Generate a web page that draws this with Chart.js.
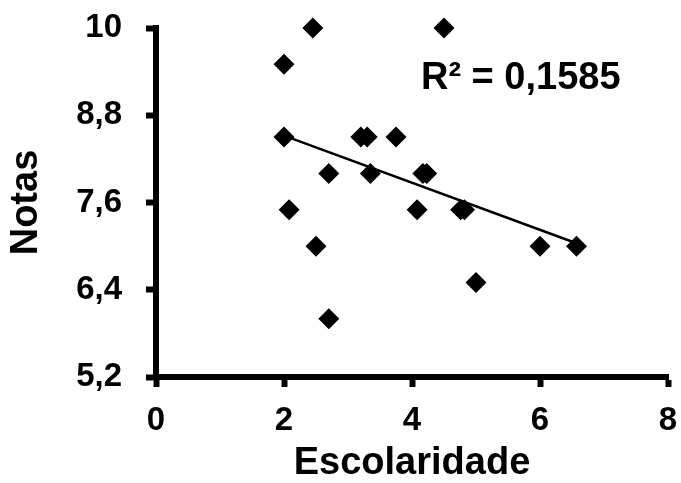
<!DOCTYPE html>
<html>
<head>
<meta charset="utf-8">
<script src="https://cdn.jsdelivr.net/npm/chart.js@4/dist/chart.umd.min.js"></script>
<style>
  html, body { margin: 0; padding: 0; background: #fff; }
  #wrap { width: 681px; height: 483px; }
</style>
</head>
<body>
<div id="wrap"><canvas id="c" width="681" height="483"></canvas></div>
<script>
// Escolaridade (x) and Notas (y) for each observation
const escolaridade = [2.45, 4.5, 2, 2, 3.2, 3.3, 3.75, 2.7, 3.35, 4.17, 4.23, 2.08, 4.08, 4.76, 4.82, 2.5, 6, 6.57, 5, 2.7];
const notas        = [10, 10, 9.5, 8.5, 8.5, 8.5, 8.5, 8, 8, 8, 8, 7.5, 7.5, 7.5, 7.5, 7, 7, 7, 6.5, 6];

// Linear trend line end points
const trendX = [2, 6.57];
const trendY = [8.52, 7.04];

// Axis ticks
const xTicks = [0, 2, 4, 6, 8];
const yTicks = [5.2, 6.4, 7.6, 8.8, 10];

const r2Text = 'R\u00B2 = 0,1585';

const FAMILY = "'Liberation Sans', Arial, Helvetica, sans-serif";

const fmt = v => Number.isInteger(v) ? String(v) : v.toFixed(1).replace('.', ',');

const points = escolaridade.map((x, i) => ({ x: x, y: notas[i] }));
const trend = trendX.map((x, i) => ({ x: x, y: trendY[i] }));

const r2Plugin = {
  id: 'r2Label',
  afterDatasetsDraw(chart) {
    const ctx = chart.ctx;
    const xs = chart.scales.x, ys = chart.scales.y;
    ctx.save();
    ctx.fillStyle = '#000';
    ctx.font = 'bold 38px ' + FAMILY;
    ctx.textAlign = 'left';
    ctx.textBaseline = 'alphabetic';
    ctx.fillText(r2Text, xs.getPixelForValue(4.14), ys.getPixelForValue(9.16));
    ctx.restore();
  }
};

const axisCommon = {
  type: 'linear',
  grid: { drawOnChartArea: false, drawTicks: true, tickLength: 10, tickWidth: 6, tickColor: '#000', color: '#000' },
  border: { display: true, color: '#000', width: 6 }
};

new Chart(document.getElementById('c'), {
  type: 'scatter',
  data: {
    datasets: [
      {
        type: 'line',
        data: trend,
        borderColor: '#000',
        borderWidth: 2.5,
        pointRadius: 0,
        fill: false,
        tension: 0,
        clip: false
      },
      {
        data: points,
        pointStyle: 'rectRot',
        pointRadius: 10.5,
        backgroundColor: '#000',
        borderColor: '#000',
        borderWidth: 0,
        clip: false
      }
    ]
  },
  options: {
    responsive: false,
    animation: false,
    events: [],
    layout: { padding: { top: 28, right: 13, left: 0, bottom: 0 } },
    plugins: { legend: { display: false }, tooltip: { enabled: false } },
    scales: {
      x: Object.assign({}, axisCommon, {
        min: 0, max: 8,
        afterBuildTicks: s => { s.ticks = xTicks.map(v => ({ value: v })); },
        afterFit: s => { s.height = 106; s.paddingLeft = 0; s.paddingRight = 0; },
        ticks: { color: '#000', font: { family: FAMILY, size: 33, weight: 'bold' }, padding: 14, maxRotation: 0, autoSkip: false, callback: v => fmt(v) },
        title: { display: true, text: 'Escolaridade', color: '#000', font: { family: FAMILY, size: 38, weight: 'bold', lineHeight: 1 }, padding: { top: 0, bottom: 0 } }
      }),
      y: Object.assign({}, axisCommon, {
        min: 5.2, max: 10,
        afterBuildTicks: s => { s.ticks = yTicks.map(v => ({ value: v })); },
        afterFit: s => { s.width = 156; s.paddingTop = 0; s.paddingBottom = 0; },
        ticks: { color: '#000', font: { family: FAMILY, size: 33, weight: 'bold' }, padding: 24, autoSkip: false, callback: v => fmt(v) },
        title: { display: true, text: 'Notas', color: '#000', font: { family: FAMILY, size: 38, weight: 'bold', lineHeight: 1 }, padding: { top: 8, bottom: 0 } }
      })
    }
  },
  plugins: [r2Plugin]
});
</script>
</body>
</html>
